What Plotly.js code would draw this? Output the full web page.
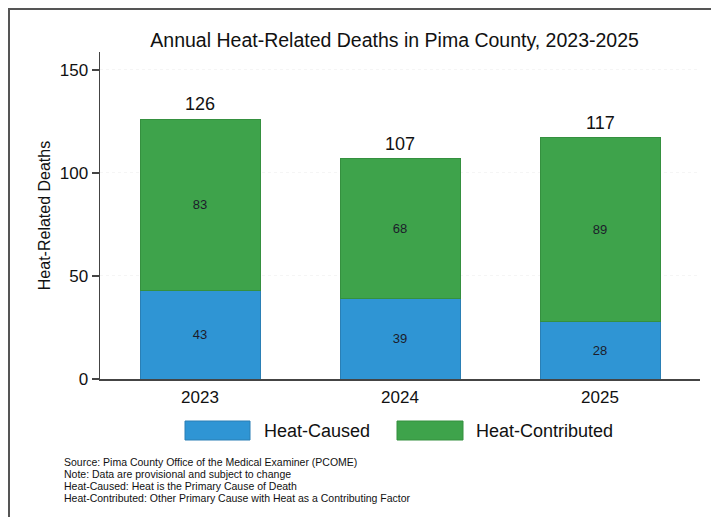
<!DOCTYPE html>
<html>
<head>
<meta charset="utf-8">
<script src="https://cdn.plot.ly/plotly-3.0.1.min.js"></script>
<style>
  body { margin: 0; background: #fff; }
  #wrap { position: relative; width: 711px; height: 517px; }
  #chart { position: absolute; left: 0; top: 0; width: 711px; height: 517px; }
  #frame { position: absolute; left: 8px; top: 8px; width: 710px; height: 520px;
           border-left: 2px solid #555; border-top: 2px solid #555; pointer-events: none; }
</style>
</head>
<body>
<div id="wrap">
  <div id="chart"></div>
  <div id="frame"></div>
</div>
<script>
const years = ['2023', '2024', '2025'];
const heatCaused = [43, 39, 28];
const heatContributed = [83, 68, 89];
const totals = [126, 107, 117];
const seriesNames = ['Heat-Caused', 'Heat-Contributed'];
const titleText = 'Annual Heat-Related Deaths in Pima County, 2023-2025';
const yTitle = 'Heat-Related Deaths';
const notes = [
  'Source: Pima County Office of the Medical Examiner (PCOME)',
  'Note: Data are provisional and subject to change',
  'Heat-Caused: Heat is the Primary Cause of Death',
  'Heat-Contributed: Other Primary Cause with Heat as a Contributing Factor'
];

const blue = '#2f95d4';
const green = '#3ea34b';
const font = 'Liberation Sans, Arial, sans-serif';

const traces = [
  {
    type: 'bar', x: years, y: heatCaused, name: seriesNames[0],
    marker: { color: blue, line: { color: '#2a7fb5', width: 1 } },
    text: heatCaused.map(String), textposition: 'inside', insidetextanchor: 'middle',
    textfont: { family: font, size: 13, color: '#1c1c2a' }, hoverinfo: 'x+y+name'
  },
  {
    type: 'bar', x: years, y: heatContributed, name: seriesNames[1],
    marker: { color: green, line: { color: '#35903f', width: 1 } },
    text: heatContributed.map(String), textposition: 'inside', insidetextanchor: 'middle',
    textfont: { family: font, size: 13, color: '#1c1c2a' }, hoverinfo: 'x+y+name'
  }
];

const P = (px) => (px - 100) / 600;   // paper x from pixel
const Q = (py) => (379 - py) / 327;   // paper y from pixel

const annotations = [];
years.forEach((yr, i) => {
  annotations.push({ xref: 'x', yref: 'y', x: i, y: totals[i], yanchor: 'bottom',
    yshift: 3, text: String(totals[i]), showarrow: false,
    font: { family: font, size: 18, color: '#111' } });
});
annotations.push(
  { xref: 'paper', yref: 'paper', x: P(262), y: Q(431), xanchor: 'left', yanchor: 'middle',
    text: seriesNames[0], showarrow: false, font: { family: font, size: 18, color: '#111' } },
  { xref: 'paper', yref: 'paper', x: P(474), y: Q(431), xanchor: 'left', yanchor: 'middle',
    text: seriesNames[1], showarrow: false, font: { family: font, size: 18, color: '#111' } }
);
notes.forEach((t, i) => {
  annotations.push({ xref: 'paper', yref: 'paper', x: P(62), y: Q(462 + i * 12),
    xanchor: 'left', yanchor: 'middle', text: t, showarrow: false,
    font: { family: 'Liberation Sans Narrow, Liberation Sans, Arial, sans-serif', size: 10.5, color: '#111' } });
});

const shapes = [
  { type: 'rect', xref: 'paper', yref: 'paper', x0: P(185), x1: P(250), y0: Q(440), y1: Q(421),
    fillcolor: blue, line: { color: '#2a7fb5', width: 1 } },
  { type: 'rect', xref: 'paper', yref: 'paper', x0: P(397), x1: P(463), y0: Q(440), y1: Q(421),
    fillcolor: green, line: { color: '#35903f', width: 1 } }
];

const layout = {
  width: 711, height: 517,
  margin: { l: 100, r: 11, t: 52, b: 138 },
  paper_bgcolor: '#ffffff', plot_bgcolor: '#ffffff',
  barmode: 'stack', bargap: 0.4,
  showlegend: false,
  font: { family: font, color: '#111' },
  title: { text: titleText, font: { family: font, size: 19.5, color: '#111' },
           x: 0.555, xanchor: 'center', y: 0.922, yanchor: 'middle' },
  xaxis: {
    type: 'category', range: [-0.5, 2.5],
    showline: true, linecolor: '#444', linewidth: 1.5,
    ticks: '', tickfont: { family: font, size: 17, color: '#111' },
    ticklabelstandoff: 2, showgrid: false, zeroline: false, fixedrange: true
  },
  yaxis: {
    range: [0, 158.7], tickvals: [0, 50, 100, 150],
    showline: true, linecolor: '#444', linewidth: 1.5,
    ticks: 'outside', ticklen: 7, tickcolor: '#444', tickwidth: 1.2,
    tickfont: { family: font, size: 17, color: '#111' },
    showgrid: true, gridcolor: '#f5f5f5', griddash: 'dot', gridwidth: 1,
    zeroline: false,
    title: { text: yTitle, font: { family: font, size: 16, color: '#111' }, standoff: 5 },
    fixedrange: true
  },
  annotations: annotations,
  shapes: shapes
};

Plotly.newPlot('chart', traces, layout, { displayModeBar: false, staticPlot: true });
</script>
</body>
</html>
